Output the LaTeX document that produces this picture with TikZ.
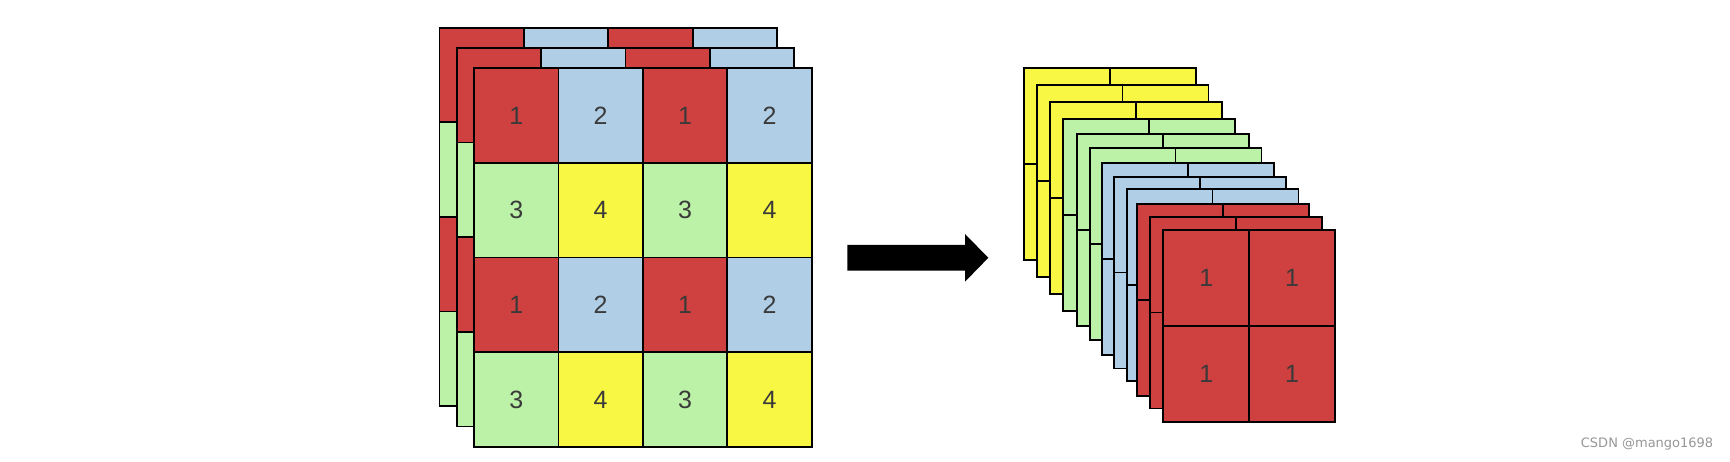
\documentclass[tikz,border=0pt]{standalone}
\usepackage{fontspec}
\setmainfont{Liberation Sans}
\newfontfamily\wmfont{DejaVu Sans}
\definecolor{cred}{RGB}{207,64,64}
\definecolor{cblue}{RGB}{176,206,230}
\definecolor{cgreen}{RGB}{187,242,168}
\definecolor{cyellow}{RGB}{248,248,68}
\definecolor{cdigit}{RGB}{58,58,58}
\definecolor{cmark}{RGB}{150,150,150}
\tikzset{
  cell/.style={draw=black, line width=1.8pt, minimum width=84.4pt, minimum height=94.6pt,
    inner sep=0pt, outer sep=0pt, font=\fontsize{25}{25}\selectfont, text=cdigit},
  smallcell/.style={cell, minimum width=85.85pt, minimum height=95.85pt},
  blockarrow/.style={fill=black},
  watermark/.style={anchor=west, text=cmark, font=\wmfont\fontsize{13}{14}\selectfont, inner sep=0pt}
}
\begin{document}
\begin{tikzpicture}[x=1pt,y=-1pt]
\useasboundingbox (0,0) rectangle (1730,462);
% left block: three layers of a 4x4 grid
\foreach \k/\dx/\dy in {0/-34.6/-40.6, 1/-17.3/-20.3, 2/0/0} {
  \foreach \p in {0,1} {
    \foreach \c/\ca/\cb/\la/\lb in {0/cred/cgreen/1/3, 1/cblue/cyellow/2/4, 2/cred/cgreen/1/3, 3/cblue/cyellow/2/4} {
      \pgfmathsetmacro{\xx}{474+\dx+(\c+0.5)*84.425}
      \pgfmathsetmacro{\ya}{68.3+\dy+(2*\p+0.5)*94.6}
      \pgfmathsetmacro{\yb}{68.3+\dy+(2*\p+1.5)*94.6}
      \node[cell, fill=\ca] (L\k-\p a-\c) at (\xx,\ya) {\ifnum\k=2 \la\fi};
      \node[cell, fill=\cb] (L\k-\p b-\c) at (\xx,\yb) {\ifnum\k=2 \lb\fi};
    }
  }
}
% arrow
\fill[blockarrow] (847.3,245) -- (965,245) -- (965,234) -- (988.3,257.8) -- (965,281.7)
  -- (965,270.7) -- (847.3,270.7) -- cycle;
% right block: twelve layers of a 2x2 grid
\foreach \n/\lx/\ty/\col in {1/1024/68.3/cyellow, 2/1036.7/85/cyellow, 3/1050/102.3/cyellow,
  4/1063.3/119/cgreen, 5/1077.3/134/cgreen, 6/1089.7/148.3/cgreen,
  7/1102/163.3/cblue, 8/1114.3/176.7/cblue, 9/1126.7/189.3/cblue,
  10/1137.3/204/cred, 11/1150/216.7/cred, 12/1163.3/230/cred} {
  \foreach \r in {0,1} {
    \foreach \c in {0,1} {
      \pgfmathsetmacro{\xx}{\lx+(\c+0.5)*85.85}
      \pgfmathsetmacro{\yy}{\ty+(\r+0.5)*95.85}
      \node[smallcell, fill=\col] (R\n-\r-\c) at (\xx,\yy) {\ifnum\n=12 1\fi};
    }
  }
}
\node[watermark] (wm) at (1580.7,444) {CSDN @mango1698};
\end{tikzpicture}
\end{document}
